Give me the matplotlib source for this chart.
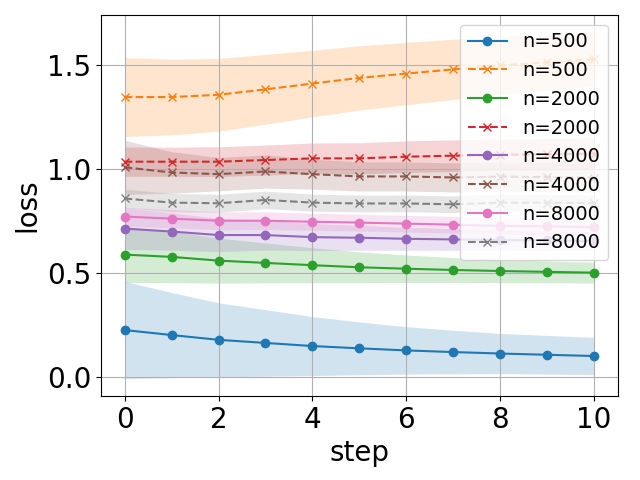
import numpy as np
import matplotlib
matplotlib.use("Agg")
import matplotlib.pyplot as plt

steps = list(range(11))

# mean curves
loss_500_a = [0.227, 0.203, 0.180, 0.165, 0.150, 0.139, 0.129, 0.121, 0.114, 0.108, 0.102]
loss_500_b = [1.348, 1.348, 1.359, 1.385, 1.413, 1.440, 1.461, 1.481, 1.500, 1.515, 1.530]
loss_2000_a = [0.590, 0.579, 0.561, 0.550, 0.539, 0.529, 0.522, 0.516, 0.511, 0.507, 0.503]
loss_2000_b = [1.037, 1.037, 1.037, 1.045, 1.053, 1.053, 1.061, 1.066, 1.070, 1.073, 1.076]
loss_4000_a = [0.715, 0.701, 0.684, 0.684, 0.674, 0.671, 0.666, 0.663, 0.660, 0.658, 0.655]
loss_4000_b = [1.010, 0.985, 0.977, 0.990, 0.977, 0.966, 0.966, 0.961, 0.965, 0.963, 0.960]
loss_8000_a = [0.773, 0.763, 0.753, 0.753, 0.748, 0.744, 0.739, 0.734, 0.728, 0.726, 0.722]
loss_8000_b = [0.860, 0.840, 0.837, 0.853, 0.840, 0.836, 0.836, 0.832, 0.840, 0.840, 0.838]

# spread (std) around each curve
std_500_a = [0.234, 0.205, 0.178, 0.160, 0.142, 0.127, 0.114, 0.105, 0.097, 0.093, 0.090]
std_500_b = [0.190, 0.182, 0.175, 0.168, 0.160, 0.155, 0.150, 0.145, 0.140, 0.135, 0.130]
std_2000_a = [0.134, 0.124, 0.108, 0.096, 0.084, 0.074, 0.066, 0.060, 0.056, 0.052, 0.050]
std_2000_b = [0.070, 0.070, 0.072, 0.072, 0.074, 0.075, 0.076, 0.076, 0.076, 0.076, 0.076]
std_4000_a = [0.100, 0.090, 0.080, 0.072, 0.065, 0.060, 0.055, 0.052, 0.049, 0.047, 0.045]
std_4000_b = [0.130, 0.100, 0.080, 0.080, 0.072, 0.070, 0.070, 0.070, 0.070, 0.070, 0.070]
std_8000_a = [0.045, 0.044, 0.043, 0.042, 0.041, 0.040, 0.040, 0.040, 0.040, 0.040, 0.040]
std_8000_b = [0.045, 0.044, 0.043, 0.042, 0.041, 0.040, 0.040, 0.040, 0.040, 0.040, 0.040]

series = [
    ("n=500", loss_500_a, std_500_a, "-", "o"),
    ("n=500", loss_500_b, std_500_b, "--", "x"),
    ("n=2000", loss_2000_a, std_2000_a, "-", "o"),
    ("n=2000", loss_2000_b, std_2000_b, "--", "x"),
    ("n=4000", loss_4000_a, std_4000_a, "-", "o"),
    ("n=4000", loss_4000_b, std_4000_b, "--", "x"),
    ("n=8000", loss_8000_a, std_8000_a, "-", "o"),
    ("n=8000", loss_8000_b, std_8000_b, "--", "x"),
]

fig, ax = plt.subplots(figsize=(6.4, 4.8), dpi=100)
x = np.array(steps)
for i, (label, mean, std, ls, mk) in enumerate(series):
    mean = np.array(mean)
    std = np.array(std)
    color = f"C{i}"
    ax.plot(x, mean, linestyle=ls, marker=mk, color=color, label=label)
    ax.fill_between(x, mean - std, mean + std, color=color, alpha=0.2, linewidth=0)

ax.set_xlabel("step", fontsize=20)
ax.set_ylabel("loss", fontsize=20)
ax.tick_params(labelsize=20)
ax.set_xticks([0, 2, 4, 6, 8, 10])
ax.set_yticks([0.0, 0.5, 1.0, 1.5])
ax.grid(True)
ax.legend(loc="upper right", fontsize=14)
fig.subplots_adjust(left=0.158, right=0.965, top=0.969, bottom=0.175)
plt.savefig("out.png")
